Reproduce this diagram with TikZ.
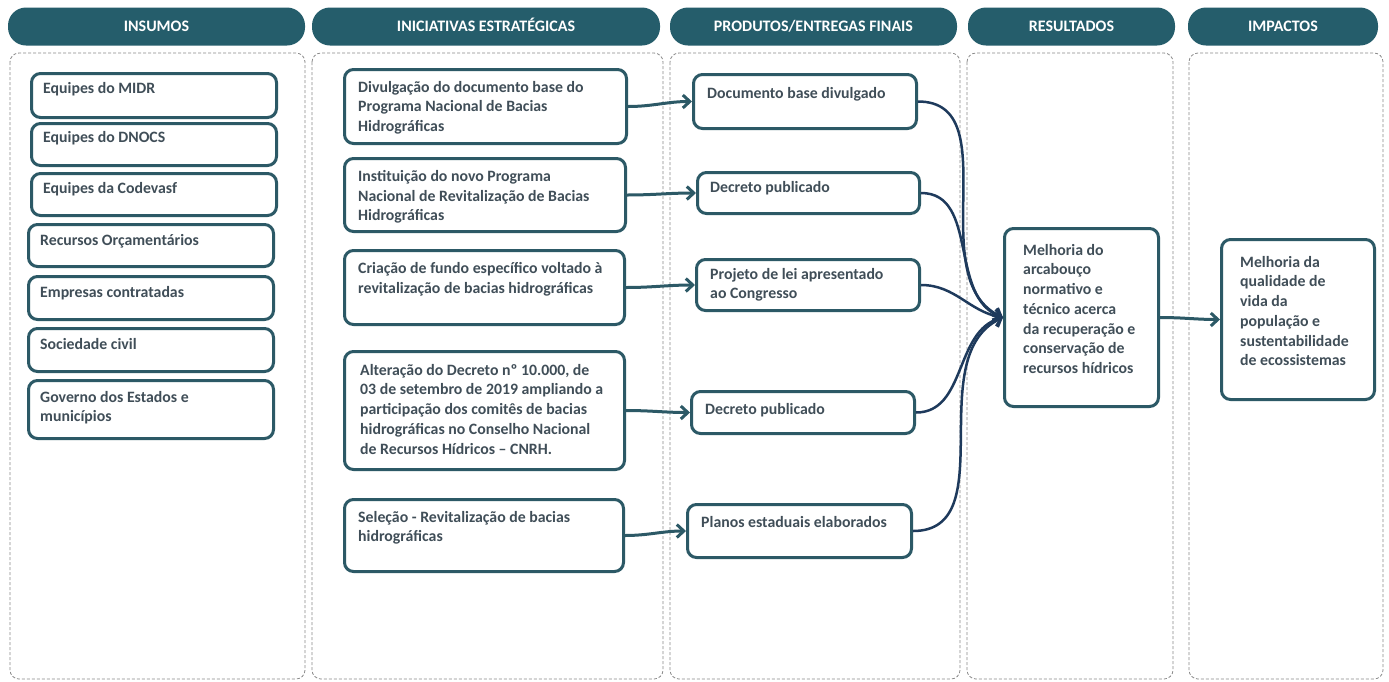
\documentclass[tikz,border=0pt]{standalone}
\usepackage{fontspec}
\setmainfont{Carlito}
\usetikzlibrary{positioning,arrows.meta}
\definecolor{petroleo}{HTML}{255D6B}
\definecolor{borda}{HTML}{2C5966}
\definecolor{texto}{HTML}{404E58}
\definecolor{marinho}{HTML}{1E3A5C}
\definecolor{tracejado}{HTML}{8A8A8A}

\begin{document}
\begin{tikzpicture}[x=1pt, y=-1pt,
    cabec/.style={fill=petroleo, rounded corners=18pt, minimum height=38pt, inner sep=0pt,
      text height=10.3pt, text depth=0pt, text=white, font=\fontsize{16}{19}\selectfont\bfseries},
    painel/.style={draw=tracejado, dash pattern=on 3pt off 2pt, rounded corners=9pt, line width=0.8pt},
    caixa/.style={draw=borda, line width=3pt, rounded corners=9pt, fill=white, anchor=north west, inner sep=0pt},
    txt/.style={text=texto, font=\fontsize{15.8}{19.7}\selectfont\bfseries, align=left, inner sep=0pt},
    seta/.style={draw=borda, line width=3pt, -{Straight Barb[length=7pt,width=13pt]}},
    curva/.style={draw=marinho, line width=2.5pt, -{Straight Barb[length=7pt,width=13pt]}}]
  \fill[white] (0,0) rectangle (1389,681);
  \useasboundingbox (0,0) rectangle (1389,681);

  % cabecalhos
  \node[cabec, minimum width=297pt] (h-ins) at (156.5,26.5) {INSUMOS};
  \node[cabec, minimum width=348pt] (h-ini) at (486,26.5) {INICIATIVAS ESTRATÉGICAS};
  \node[cabec, minimum width=287pt] (h-pro) at (813.5,26.5) {PRODUTOS/ENTREGAS FINAIS};
  \node[cabec, minimum width=207pt] (h-res) at (1071.5,26.5) {RESULTADOS};
  \node[cabec, minimum width=190pt] (h-imp) at (1283,26.5) {IMPACTOS};

  % paineis
  \draw[painel] (10,53) rectangle (305,679);
  \draw[painel] (312,53) rectangle (663,679);
  \draw[painel] (670,53) rectangle (960,679);
  \draw[painel] (967,53) rectangle (1173,679);
  \draw[painel] (1189,53) rectangle (1383,679);

  % insumos
  \node[caixa, minimum width=245pt, minimum height=44pt] (midr) at (30,72) {};
  \node[txt, below right=10pt and 13pt of midr.north west] (midr-t) {Equipes do MIDR};
  \node[caixa, minimum width=245pt, minimum height=42pt] (dnocs) at (30,122) {};
  \node[txt, below right=9pt and 13pt of dnocs.north west] (dnocs-t) {Equipes do DNOCS};
  \node[caixa, minimum width=245pt, minimum height=42pt] (codevasf) at (30,172) {};
  \node[txt, below right=10pt and 13pt of codevasf.north west] (codevasf-t) {Equipes da Codevasf};
  \node[caixa, minimum width=245pt, minimum height=42pt] (recursos) at (27,223) {};
  \node[txt, below right=11pt and 13pt of recursos.north west] (recursos-t) {Recursos Orçamentários};
  \node[caixa, minimum width=245pt, minimum height=43pt] (empresas) at (27,275) {};
  \node[txt, below right=11pt and 13pt of empresas.north west] (empresas-t) {Empresas contratadas};
  \node[caixa, minimum width=245pt, minimum height=43pt] (sociedade) at (27,327) {};
  \node[txt, below right=11pt and 13pt of sociedade.north west] (sociedade-t) {Sociedade civil};
  \node[caixa, minimum width=245pt, minimum height=58pt] (governo) at (27,379) {};
  \node[txt, below right=12pt and 13pt of governo.north west] (governo-t) {Governo dos Estados e\\municípios};

  % iniciativas
  \node[caixa, minimum width=282pt, minimum height=74pt] (div) at (343,68) {};
  \node[txt, below right=13pt and 15pt of div.north west] (div-t) {Divulgação do documento base do\\Programa  Nacional de Bacias\\Hidrográficas};
  \node[caixa, minimum width=281pt, minimum height=73pt] (inst) at (343,157) {};
  \node[txt, below right=13pt and 15pt of inst.north west] (inst-t) {Instituição do novo Programa\\Nacional de Revitalização de Bacias\\Hidrográficas};
  \node[caixa, minimum width=280pt, minimum height=74pt] (cria) at (343,249) {};
  \node[txt, below right=13pt and 15pt of cria.north west] (cria-t) {Criação de fundo específico voltado à\\revitalização de bacias hidrográficas};
  \node[caixa, minimum width=280pt, minimum height=118pt] (alt) at (343,350) {};
  \node[txt, below right=14pt and 17pt of alt.north west] (alt-t) {Alteração do Decreto nº 10.000,  de\\03 de setembro de 2019  ampliando a\\participação dos comitês de bacias\\hidrográficas no Conselho Nacional\\de Recursos Hídricos – CNRH.};
  \node[caixa, minimum width=279pt, minimum height=72pt] (sel) at (343,498) {};
  \node[txt, below right=13pt and 15pt of sel.north west] (sel-t) {Seleção - Revitalização de bacias\\hidrográficas};

  % produtos
  \node[caixa, minimum width=223pt, minimum height=54pt] (doc) at (692,73) {};
  \node[txt, below right=14pt and 15pt of doc.north west] (doc-t) {Documento base divulgado};
  \node[caixa, minimum width=222pt, minimum height=41pt] (dec1) at (696,171) {};
  \node[txt, below right=10pt and 14pt of dec1.north west] (dec1-t) {Decreto publicado};
  \node[caixa, minimum width=223pt, minimum height=51pt] (proj) at (695,258) {};
  \node[txt, below right=10pt and 15pt of proj.north west] (proj-t) {Projeto de lei apresentado\\ao Congresso};
  \node[caixa, minimum width=223pt, minimum height=42pt] (dec2) at (690,390) {};
  \node[txt, below right=13pt and 15pt of dec2.north west] (dec2-t) {Decreto publicado};
  \node[caixa, minimum width=224pt, minimum height=53pt] (planos) at (686,503) {};
  \node[txt, below right=13pt and 15pt of planos.north west] (planos-t) {Planos estaduais elaborados};

  % resultado e impacto
  \node[caixa, minimum width=154pt, minimum height=178pt] (res) at (1003,227) {};
  \node[txt, below right=17pt and 20pt of res.north west] (res-t) {Melhoria do\\arcabouço\\normativo e\\técnico acerca\\da recuperação e\\conservação de\\recursos hídricos};
  \node[caixa, minimum width=153pt, minimum height=160pt] (imp) at (1220,238) {};
  \node[txt, below right=18pt and 20pt of imp.north west] (imp-t) {Melhoria da\\qualidade de\\vida da\\população e\\sustentabilidade\\de ecossistemas};

  % setas
  \draw[seta] (div.east) to[out=0, in=180] (doc.west);
  \draw[seta] (inst.east) to[out=0, in=180] (dec1.west);
  \draw[seta] (cria.east) to[out=0, in=180] (proj.west);
  \draw[seta] (alt.east) to[out=0, in=180] (dec2.west);
  \draw[seta] (sel.east) to[out=0, in=180] (planos.west);

  \draw[curva] (doc.east) to[out=0, in=155] (res.west);
  \draw[curva] (dec1.east) to[out=0, in=160] (res.west);
  \draw[curva] (proj.east) to[out=0, in=170] (res.west);
  \draw[curva] (dec2.east) to[out=0, in=195] (res.west);
  \draw[curva] (planos.east) to[out=0, in=205] (res.west);

  \draw[seta] (res.east) to[out=0, in=180] (imp.west);
\end{tikzpicture}
\end{document}
